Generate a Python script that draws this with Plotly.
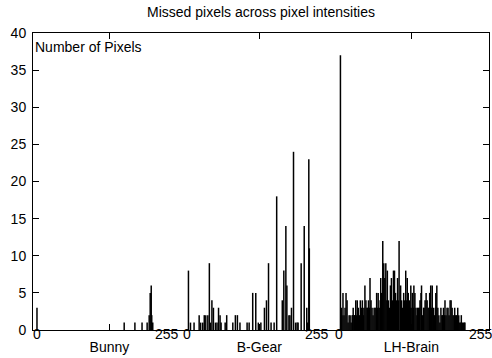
import plotly.graph_objects as go

# ---- data (intensity, missed pixel count) ----
bunny_i = [0, 171, 192, 206, 216, 220, 222, 224, 225, 227]
bunny_v = [3, 1, 1, 1, 1, 2, 5, 6, 2, 1]

gear_i = [3, 7, 14, 24, 27, 31, 34, 37, 41, 44, 46, 49, 52, 56, 59, 62, 65, 67, 75, 78,
          90, 95, 99, 104, 118, 122, 129, 135, 140, 145, 152, 156, 160, 165, 171, 176,
          187, 190, 194, 196, 200, 202, 205, 209, 213, 216, 218, 224, 230, 235, 237, 239, 240]
gear_v = [8, 1, 1, 2, 1, 1, 2, 2, 2, 9, 1, 4, 3, 1, 1, 3, 2, 1, 1, 2,
          1, 2, 2, 1, 1, 1, 5, 5, 1, 1, 3, 4, 9, 1, 1, 18,
          4, 8, 14, 6, 2, 2, 3, 24, 1, 1, 1, 9, 14, 3, 1, 23, 11]

brain_i = [3, 5, 6, 8, 10, 12, 14, 16, 18, 20, 22, 24, 26, 27, 28, 30, 31, 33, 35, 36, 38, 40,
           42, 44, 46, 48, 49, 51, 53, 55, 56, 58, 60, 61, 63, 65, 67, 69, 71, 73, 74, 76,
           77, 79, 81, 82, 84, 86, 88, 90, 92, 94, 95, 97, 99, 101, 103, 105, 107, 109, 111,
           113, 115, 117, 118, 121, 123, 125, 127, 129, 131, 133, 134, 136, 138, 140, 141,
           143, 144, 146, 147, 149, 151, 153, 154, 156, 158, 159, 161, 162, 164, 166, 167,
           169, 171, 173, 175, 177, 178, 180, 182, 183, 185, 187, 189, 190, 192, 194, 196,
           198, 200, 202, 203, 205, 207, 208, 210, 212, 214, 216, 218, 220, 222, 224, 226,
           227, 229, 231, 233, 235, 237, 239, 240, 242, 244, 246, 247]
brain_v = [37, 3, 2, 5, 2, 3, 5, 4, 1, 2, 2, 1, 2, 2, 3, 2, 2, 4, 2, 4, 3, 2,
           4, 3, 4, 2, 3, 6, 4, 3, 3, 4, 3, 7, 4, 3, 2, 3, 3, 3, 5, 3,
           5, 3, 4, 7, 5, 12, 9, 7, 9, 4, 8, 4, 3, 6, 7, 4, 8, 8, 5,
           4, 7, 4, 12, 6, 4, 3, 5, 4, 8, 4, 7, 5, 4, 3, 6,
           3, 5, 3, 6, 5, 3, 2, 3, 3, 3, 4, 5, 6, 2, 3, 3,
           4, 5, 4, 3, 3, 5, 6, 3, 6, 3, 2, 3, 5, 6, 3, 2,
           1, 3, 2, 2, 3, 2, 4, 2, 3, 3, 2, 4, 4, 3, 2, 2,
           3, 2, 2, 3, 2, 1, 1, 2, 1, 1, 1, 1]

datasets = ["Bunny", "B-Gear", "LH-Brain"]
offsets = [0, 294, 592]          # position of intensity 0 for each dataset on the shared axis
label_pos = 142                  # where the dataset name sits (relative to its offset)
end_label_pos = [255, 255, 279]  # where the "255" label sits (relative to its offset)
y_ticks = [0, 5, 10, 15, 20, 25, 30, 35, 40]

def impulses(ii, vv, off):
    xs, ys = [], []
    for i, v in zip(ii, vv):
        xs += [off + i, off + i, None]
        ys += [0, v, None]
    return xs, ys

fig = go.Figure()
for (ii, vv), off in zip([(bunny_i, bunny_v), (gear_i, gear_v), (brain_i, brain_v)], offsets):
    xs, ys = impulses(ii, vv, off)
    fig.add_trace(go.Scatter(x=xs, y=ys, mode="lines",
                             line=dict(color="black", width=1.5),
                             showlegend=False, hoverinfo="skip"))

FONT = "Liberation Sans, Arial, sans-serif"
FS = 14
ann = []
for off, e in zip(offsets, end_label_pos):
    ann.append(dict(x=off, y=-0.0135, xref="x", yref="paper", text="0",
                    showarrow=False, xanchor="center", yanchor="middle",
                    font=dict(size=FS, color="black", family=FONT)))
    ann.append(dict(x=off + e, y=-0.0135, xref="x", yref="paper", text="255",
                    showarrow=False, xanchor="center", yanchor="middle",
                    font=dict(size=FS, color="black", family=FONT)))
ann.append(dict(x=0, y=0.953, xref="paper", yref="paper", text="Number of Pixels",
                showarrow=False, xanchor="left", yanchor="middle",
                font=dict(size=FS, color="black", family=FONT)))

fig.update_layout(
    width=492, height=358,
    margin=dict(l=33, r=3, t=33, b=28),
    paper_bgcolor="white", plot_bgcolor="white",
    font=dict(family=FONT, size=FS, color="black"),
    title=dict(text="Missed pixels across pixel intensities", x=0.5, xanchor="center",
               xref="paper", y=1 - 12 / 358, yanchor="middle",
               font=dict(size=FS, color="black", family=FONT)),
    xaxis=dict(range=[-7.8, 886.3], showgrid=False, zeroline=False,
               showline=True, linecolor="black", linewidth=1, mirror="ticks",
               tickmode="array", tickvals=[o + label_pos for o in offsets], ticktext=datasets,
               ticks="inside", ticklen=6, tickcolor="black", tickwidth=1,
               ticklabelstandoff=4, tickfont=dict(size=FS, color="black", family=FONT)),
    yaxis=dict(range=[0, 40], showgrid=False, zeroline=False,
               showline=True, linecolor="black", linewidth=1, mirror="ticks",
               tickmode="array", tickvals=y_ticks,
               ticks="inside", ticklen=6, tickcolor="black", tickwidth=1,
               ticklabelstandoff=3, tickfont=dict(size=FS, color="black", family=FONT)),
    annotations=ann,
)

fig.write_html("out.html")
